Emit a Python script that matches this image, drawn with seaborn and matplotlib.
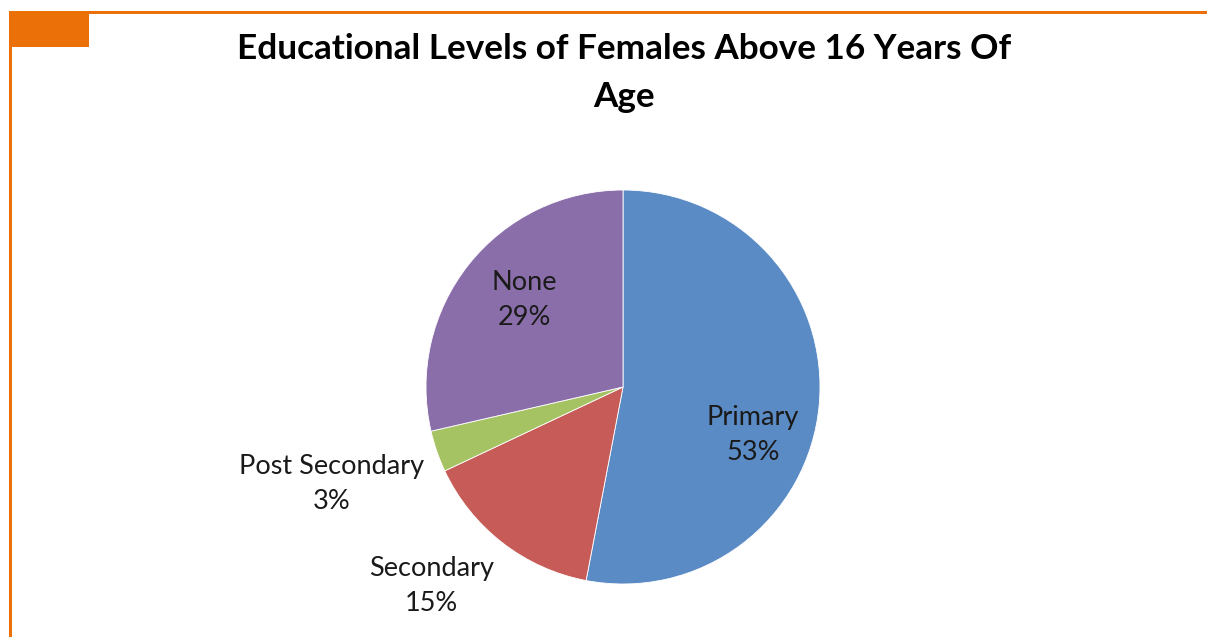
import matplotlib
matplotlib.use("Agg")
import matplotlib.pyplot as plt
import seaborn as sns
from matplotlib.patches import Rectangle

# data
levels = ["Primary", "Secondary", "Post Secondary", "None"]
shares = [53.0, 15.0, 3.4, 28.6]
colors = ["#5B8BC5", "#C65B57", "#A6C364", "#8A6EA9"]

title = "Educational Levels of Females Above 16 Years Of\nAge"

# label anchors (in pie units, radius = 1)
label_pos = {
    "Primary": (0.66, -0.245),
    "Secondary": (-0.97, -1.01),
    "Post Secondary": (-1.48, -0.49),
    "None": (-0.50, 0.44),
}

sns.set_theme(style="white")
plt.rcParams["font.family"] = ["Lato", "DejaVu Sans"]

W, H = 1207, 637
fig = plt.figure(figsize=(W / 100, H / 100), dpi=100)
fig.patch.set_facecolor("white")

# orange slide frame
orange = "#EC7008"
fig.add_artist(Rectangle((9 / W, 1 - 47 / H), 80 / W, 36 / H, transform=fig.transFigure,
                         color=orange, lw=0))
fig.add_artist(Rectangle((9 / W, 0), 3 / W, 1 - 11 / H, transform=fig.transFigure,
                         color=orange, lw=0))
fig.add_artist(Rectangle((9 / W, 1 - 14 / H), 1 - 9 / W, 3 / H, transform=fig.transFigure,
                         color=orange, lw=0))

cx, cy, r = 623, 387, 197
ax = fig.add_axes([(cx - r) / W, (H - cy - r) / H, 2 * r / W, 2 * r / H])
wedges, _ = ax.pie(shares, colors=colors, startangle=90, counterclock=False,
                   radius=1, wedgeprops=dict(edgecolor="white", linewidth=0.6))
ax.set_xlim(-1, 1)
ax.set_ylim(-1, 1)
ax.set_aspect("equal")
ax.axis("off")

for name, val in zip(levels, shares):
    x, y = label_pos[name]
    ax.text(x, y, f"{name}\n{val:.0f}%", ha="center", va="center",
            fontsize=19.5, color="#1a1a1a", linespacing=1.5)

fig.text(624 / W, 1 - 73 / H, title, ha="center", va="center", fontsize=25.3,
         fontweight="bold", color="black", linespacing=1.6)

fig.savefig("out.png", dpi=100)
